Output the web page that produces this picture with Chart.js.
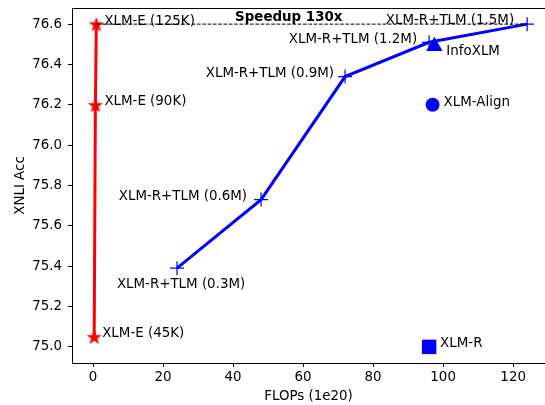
<!DOCTYPE html>
<html><head><meta charset="utf-8">
<script src="https://cdn.jsdelivr.net/npm/chart.js@4"></script>
<style>html,body{margin:0;padding:0;background:#fff;overflow:hidden;width:545px;height:405px}</style>
</head><body><canvas id="c" width="545" height="405"></canvas>
<script>
// ---- data ----
const xlmeNames = ['XLM-E (45K)', 'XLM-E (90K)', 'XLM-E (125K)'];
const xlmeFlops = [0.34, 0.68, 0.95];
const xlmeAcc = [75.05, 76.2, 76.6];

const tlmNames = ['XLM-R+TLM (0.3M)', 'XLM-R+TLM (0.6M)', 'XLM-R+TLM (0.9M)', 'XLM-R+TLM (1.2M)', 'XLM-R+TLM (1.5M)'];
const tlmFlops = [24, 48, 72, 96, 124];
const tlmAcc = [75.39, 75.73, 76.34, 76.51, 76.6];

const baseNames = ['InfoXLM', 'XLM-Align', 'XLM-R'];
const baseFlops = [97.5, 97, 96];
const baseAcc = [76.49, 76.2, 75.0];

const speedupText = 'Speedup 130x';
const xTicks = [0, 20, 40, 60, 80, 100, 120];
const yTicks = [75.0, 75.2, 75.4, 75.6, 75.8, 76.0, 76.2, 76.4, 76.6];
const xTitle = 'FLOPs (1e20)';
const yTitle = 'XNLI Acc';

// ---- styling / layout (not data) ----
const FONT = 'DejaVu Sans';
const FS = 13.4;
const xlmeOff = [[8, -3, 'left'], [9, -3, 'left'], [8, -3, 'left']];
const tlmOff = [[4, 16, 'center'], [-14, -3, 'right'], [-11, -3, 'right'], [-12, -3, 'right'], [-13, -4, 'right']];
const baseOff = [[12, 5, 'left'], [11, -2, 'left'], [11, -3, 'left']];

function starImage(size, color) {
  const c = document.createElement('canvas');
  c.width = size; c.height = size;
  const g = c.getContext('2d');
  const cx = size / 2, cy = size / 2, R = size / 2, r = R * 0.4;
  g.beginPath();
  for (let i = 0; i < 10; i++) {
    const a = -Math.PI / 2 + i * Math.PI / 5;
    const rr = i % 2 === 0 ? R : r;
    g.lineTo(cx + rr * Math.cos(a), cy + rr * Math.sin(a) + size * 0.05);
  }
  g.closePath();
  g.fillStyle = color; g.fill();
  return c;
}
const star = starImage(16, '#ff0000');

const pts = (xs, ys) => xs.map((x, i) => ({ x, y: ys[i] }));

const annotate = {
  id: 'annotate',
  afterDatasetsDraw(chart) {
    const { ctx, chartArea: a, scales: { x, y } } = chart;
    ctx.save();
    ctx.strokeStyle = '#000'; ctx.lineWidth = 1;
    ctx.beginPath();
    ctx.moveTo(Math.round(a.left), Math.round(a.top) + 0.5);
    ctx.lineTo(chart.width, Math.round(a.top) + 0.5);
    ctx.stroke();
    ctx.fillStyle = '#000';
    ctx.textBaseline = 'middle';
    ctx.font = FS + 'px "' + FONT + '"';
    const put = (names, xs, ys, off) => names.forEach((n, i) => {
      ctx.textAlign = off[i][2];
      ctx.fillText(n, x.getPixelForValue(xs[i]) + off[i][0], y.getPixelForValue(ys[i]) + off[i][1]);
    });
    put(xlmeNames, xlmeFlops, xlmeAcc, xlmeOff);
    put(tlmNames, tlmFlops, tlmAcc, tlmOff);
    put(baseNames, baseFlops, baseAcc, baseOff);
    ctx.font = 'bold ' + FS + 'px "' + FONT + '"';
    ctx.textAlign = 'center';
    const sx = (x.getPixelForValue(xlmeFlops[2]) + x.getPixelForValue(tlmFlops[4])) / 2 - 23;
    ctx.fillText(speedupText, sx, y.getPixelForValue(tlmAcc[4]) - 7);
    ctx.restore();
  }
};

new Chart(document.getElementById('c'), {
  type: 'scatter',
  data: {
    datasets: [
      { data: [{ x: xlmeFlops[2], y: xlmeAcc[2] }, { x: tlmFlops[4], y: tlmAcc[4] }], showLine: true,
        borderColor: '#000', borderWidth: 1, borderDash: [3.7, 1.6], pointRadius: 0 },
      { data: pts(xlmeFlops, xlmeAcc), showLine: true, borderColor: '#ff0000', borderWidth: 3,
        pointStyle: star, pointRadius: 8 },
      { data: pts(tlmFlops, tlmAcc), showLine: true, borderColor: '#0000ff', borderWidth: 3,
        pointStyle: 'cross', pointRadius: 7, pointBorderColor: '#0000ff', pointBorderWidth: 1.2 },
      { data: [{ x: baseFlops[0], y: baseAcc[0] }], pointStyle: 'triangle', pointRadius: 9.5,
        backgroundColor: '#0000ff', borderColor: '#0000ff', borderWidth: 0 },
      { data: [{ x: baseFlops[1], y: baseAcc[1] }], pointStyle: 'circle', pointRadius: 7,
        backgroundColor: '#0000ff', borderColor: '#0000ff', borderWidth: 0 },
      { data: [{ x: baseFlops[2], y: baseAcc[2] }], pointStyle: 'rect', pointRadius: 10.2,
        backgroundColor: '#0000ff', borderColor: '#0000ff', borderWidth: 0 }
    ]
  },
  options: {
    responsive: false, animation: false, devicePixelRatio: 1,
    layout: { autoPadding: false, padding: { top: 8, right: 0, left: 0, bottom: 0 } },
    plugins: { legend: { display: false }, tooltip: { enabled: false } },
    scales: {
      x: {
        type: 'linear', min: -6, max: 129.1,
        afterBuildTicks: s => { s.ticks = xTicks.map(v => ({ value: v })); },
        afterFit: s => { s.height = 42; s.paddingLeft = 0; s.paddingRight = 0; },
        ticks: { color: '#000', font: { family: FONT, size: FS }, padding: 2, maxRotation: 0 },
        grid: { drawOnChartArea: false, drawTicks: true, tickLength: 4, color: '#000' },
        border: { display: true, color: '#000' },
        title: { display: true, text: xTitle, color: '#000', font: { family: FONT, size: FS }, padding: { top: 1, bottom: 0 } }
      },
      y: {
        type: 'linear', min: 74.92, max: 76.68,
        afterBuildTicks: s => { s.ticks = yTicks.map(v => ({ value: v })); },
        afterFit: s => { s.width = 72; s.paddingTop = 0; s.paddingBottom = 0; },
        ticks: { color: '#000', font: { family: FONT, size: FS }, padding: 6, callback: v => v.toFixed(1) },
        grid: { drawOnChartArea: false, drawTicks: true, tickLength: 4, color: '#000' },
        border: { display: true, color: '#000' },
        title: { display: true, text: yTitle, color: '#000', font: { family: FONT, size: FS }, padding: { top: 12, bottom: 0 } }
      }
    }
  },
  plugins: [annotate]
});
</script>
</body></html>
